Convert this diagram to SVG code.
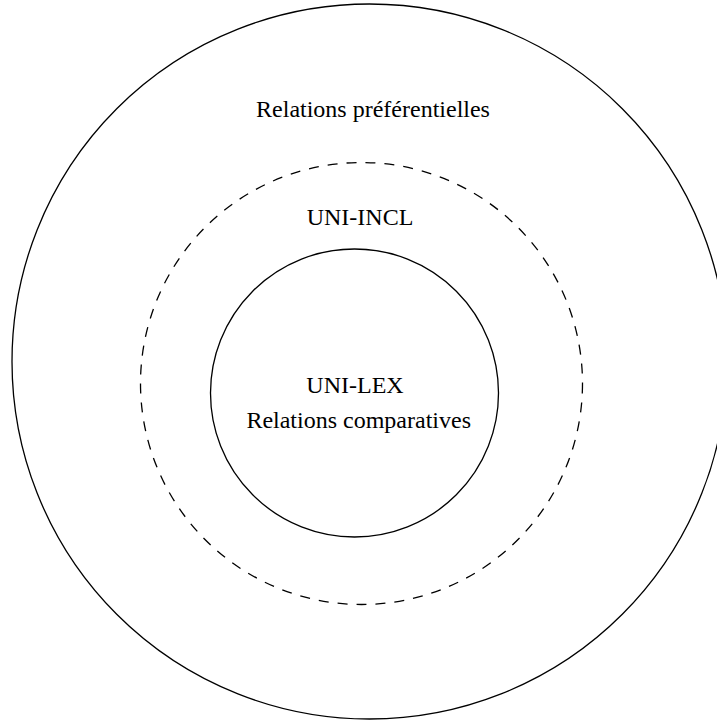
<svg xmlns="http://www.w3.org/2000/svg" width="717" height="720" viewBox="0 0 717 720">
<style>
.c{fill:none;stroke:#000;stroke-width:1.3}
.d{stroke-dasharray:10 9}
text{font-family:"Liberation Serif","Times New Roman",serif;font-size:24px;fill:#000;text-anchor:middle}
</style>
<rect width="717" height="720" fill="#fff"/>
<g id="outer">
<circle class="c" cx="369.5" cy="361.5" r="357.5"/>
<text x="373" y="116.5">Relations préférentielles</text>
</g>
<g id="uni-incl">
<circle class="c d" cx="361.5" cy="383.5" r="221"/>
<text x="360" y="225">UNI-INCL</text>
</g>
<g id="uni-lex">
<circle class="c" cx="354.5" cy="393" r="144"/>
<text x="355" y="393.3">UNI-LEX</text>
<text x="358.7" y="427.7">Relations comparatives</text>
</g>
<g id="connectors"/>
</svg>
